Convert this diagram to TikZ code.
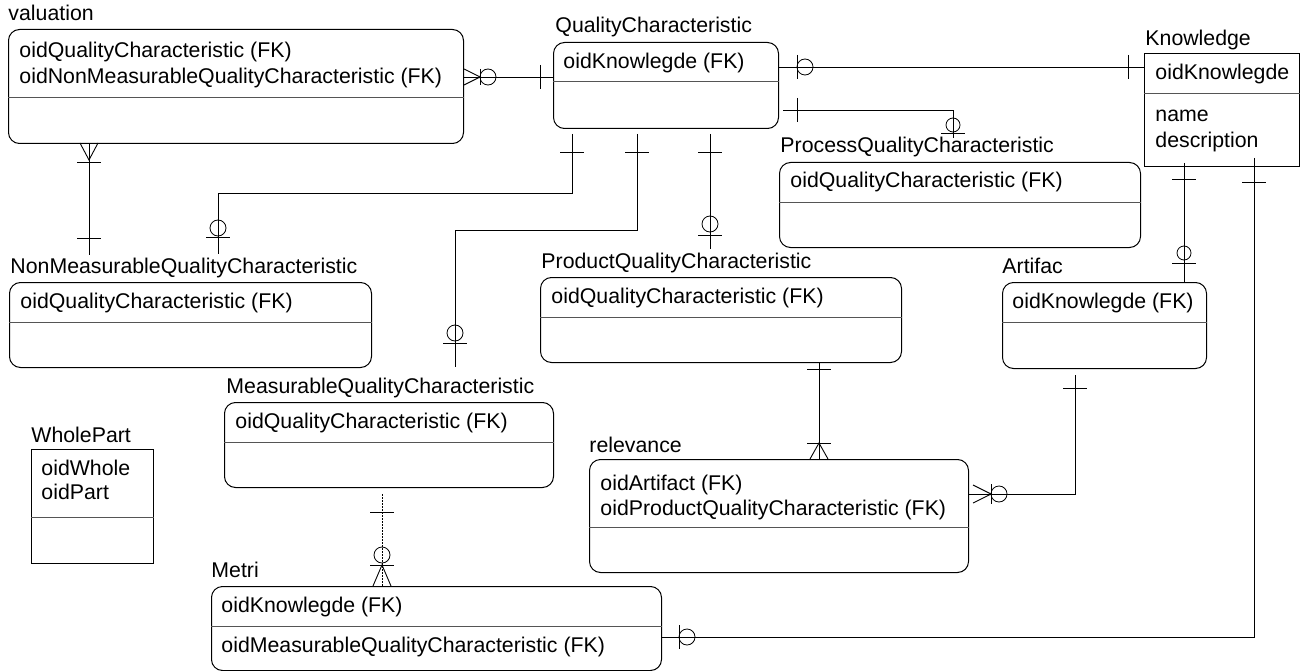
\documentclass[tikz,border=0pt]{standalone}
\usepackage{fontspec}
\setmainfont{Liberation Sans}
\usetikzlibrary{calc}
\definecolor{divgray}{RGB}{85,85,85}
\begin{document}
\begin{tikzpicture}[x=1pt,y=-1pt,line width=0.9pt,
  ent/.style={draw, rounded corners=11pt, inner sep=0pt, anchor=north west, line width=1pt},
  sqent/.style={draw, inner sep=0pt, anchor=north west, line width=1pt},
  lbl/.style={inner sep=0pt, anchor=base west, font=\fontsize{21.3}{25}\selectfont},
  divline/.style={draw=divgray, line width=1pt},
  conn/.style={line width=0.9pt},
  idf/.style={conn, dash pattern=on 2pt off 1pt},
  ring/.style={line width=0.8pt}
]
\useasboundingbox (0,0) rectangle (1300,671);

% ---------- entities ----------
% valuation
\node[lbl] (valL) at (8,21) {valuation};
\node[ent, minimum width=455pt, minimum height=114pt] (val) at (8,29) {};
\draw[divline] (val.west |- 0,98) -- (val.east |- 0,98);
\node[lbl] (valR1) at (19,58) {oidQualityCharacteristic (FK)};
\node[lbl] (valR2) at (19,84) {oidNonMeasurableQualityCharacteristic (FK)};

% QualityCharacteristic
\node[lbl] (qcL) at (555,33) {QualityCharacteristic};
\node[ent, minimum width=225pt, minimum height=86pt] (qc) at (553,42) {};
\draw[divline] (qc.west |- 0,82) -- (qc.east |- 0,82);
\node[lbl] (qcR1) at (563,69) {oidKnowlegde (FK)};

% Knowledge
\node[lbl] (knL) at (1145,46) {Knowledge};
\node[sqent, minimum width=155pt, minimum height=113pt] (kn) at (1144,53) {};
\draw[divline] (kn.west |- 0,94) -- (kn.east |- 0,94);
\node[lbl] (knR1) at (1155,80) {oidKnowlegde};
\node[lbl] (knR2) at (1155,122) {name};
\node[lbl] (knR3) at (1155,148) {description};

% ProcessQualityCharacteristic
\node[lbl] (pqL) at (780,153) {ProcessQualityCharacteristic};
\node[ent, minimum width=361pt, minimum height=85pt] (pq) at (779,162) {};
\draw[divline] (pq.west |- 0,202) -- (pq.east |- 0,202);
\node[lbl] (pqR1) at (790,188) {oidQualityCharacteristic (FK)};

% NonMeasurableQualityCharacteristic
\node[lbl] (nmL) at (10,273) {NonMeasurableQualityCharacteristic};
\node[ent, minimum width=362pt, minimum height=85pt] (nm) at (9,282) {};
\draw[divline] (nm.west |- 0,322) -- (nm.east |- 0,322);
\node[lbl] (nmR1) at (20,308) {oidQualityCharacteristic (FK)};

% ProductQualityCharacteristic
\node[lbl] (prL) at (541,268) {ProductQualityCharacteristic};
\node[ent, minimum width=361pt, minimum height=85pt] (pr) at (540,277) {};
\draw[divline] (pr.west |- 0,317) -- (pr.east |- 0,317);
\node[lbl] (prR1) at (551,303) {oidQualityCharacteristic (FK)};

% Artifac
\node[lbl] (arL) at (1002,273) {Artifac};
\node[ent, minimum width=204pt, minimum height=86pt] (ar) at (1002,282) {};
\draw[divline] (ar.west |- 0,322) -- (ar.east |- 0,322);
\node[lbl] (arR1) at (1012,308) {oidKnowlegde (FK)};

% MeasurableQualityCharacteristic
\node[lbl] (mqL) at (226,393) {MeasurableQualityCharacteristic};
\node[ent, minimum width=329pt, minimum height=85pt] (mq) at (224,402) {};
\draw[divline] (mq.west |- 0,442) -- (mq.east |- 0,442);
\node[lbl] (mqR1) at (235,428) {oidQualityCharacteristic (FK)};

% relevance
\node[lbl] (reL) at (589,452) {relevance};
\node[ent, minimum width=379pt, minimum height=113pt] (re) at (589,459) {};
\draw[divline] (re.west |- 0,527) -- (re.east |- 0,527);
\node[lbl] (reR1) at (600,490) {oidArtifact (FK)};
\node[lbl] (reR2) at (600,515) {oidProductQualityCharacteristic (FK)};

% Metri
\node[lbl] (meL) at (211,577) {Metri};
\node[ent, minimum width=450pt, minimum height=84pt] (me) at (211,586) {};
\draw[divline] (me.west |- 0,626) -- (me.east |- 0,626);
\node[lbl] (meR1) at (221,612) {oidKnowlegde (FK)};
\node[lbl] (meR2) at (221,652) {oidMeasurableQualityCharacteristic (FK)};

% WholePart
\node[lbl] (wpL) at (31,442) {WholePart};
\node[sqent, minimum width=122pt, minimum height=114pt] (wp) at (31,449) {};
\draw[divline] (wp.west |- 0,517) -- (wp.east |- 0,517);
\node[lbl] (wpR1) at (41,475) {oidWhole};
\node[lbl] (wpR2) at (41,499) {oidPart};

% ---------- connectors ----------
% valuation -- QualityCharacteristic
\draw[conn] (val.east |- 0,77) -- (qc.west |- 0,77);
\draw[conn] (464,69) -- (480,77) -- (464,85);
\draw[conn] (480,69) -- (480,85);
\draw[ring] (488,77) circle[radius=8pt];
\draw[conn] (540,65) -- (540,89);

% valuation -- NonMeasurable
\coordinate (c2e) at (89,255);
\draw[conn] (val.south -| c2e) -- (c2e);
\draw[conn] (80,143) -- (89,160) -- (98,143);
\draw[conn] (77,162) -- (101,162);
\draw[conn] (77,238) -- (101,238);

% QualityCharacteristic -- Knowledge
\draw[conn] (qc.east |- 0,67) -- (kn.west |- 0,67);
\draw[conn] (797,55) -- (797,79);
\draw[ring] (805,67) circle[radius=8pt];
\draw[conn] (1128,55) -- (1128,79);

% QualityCharacteristic -- ProcessQC
\coordinate (c4s) at (783,110);
\coordinate (c4e) at (953,138);
\draw[conn] (c4s) -| (c4e);
\draw[conn] (797,98) -- (797,122);
\draw[ring] (953,125) circle[radius=7pt];
\draw[conn] (941,133) -- (965,133);

% QualityCharacteristic -- NonMeasurable
\coordinate (c5s) at (572,134);
\coordinate (c5m) at (218,193);
\coordinate (c5e) at (218,254);
\draw[conn] (c5s) |- (c5m) -- (c5e);
\draw[conn] (560,152) -- (584,152);
\draw[ring] (218,228) circle[radius=8pt];
\draw[conn] (206,237) -- (230,237);

% QualityCharacteristic -- Measurable
\coordinate (c6s) at (637,134);
\coordinate (c6m) at (455,230);
\coordinate (c6e) at (455,367);
\draw[conn] (c6s) |- (c6m) -- (c6e);
\draw[conn] (625,152) -- (649,152);
\draw[ring] (455,333) circle[radius=8pt];
\draw[conn] (443,343) -- (467,343);

% QualityCharacteristic -- ProductQC
\coordinate (c7s) at (710,134);
\coordinate (c7e) at (710,249);
\draw[conn] (c7s) -- (c7e);
\draw[conn] (698,152) -- (722,152);
\draw[ring] (710,224) circle[radius=8pt];
\draw[conn] (698,235) -- (722,235);

% Knowledge -- Artifac
\coordinate (c8s) at (1184,163);
\draw[conn] (c8s) -- (ar.north -| c8s);
\draw[conn] (1172,179) -- (1196,179);
\draw[ring] (1184,253) circle[radius=7pt];
\draw[conn] (1172,263) -- (1196,263);

% Knowledge -- Metri
\coordinate (c9s) at (1254,158);
\draw[conn] (c9s) |- (me.east |- 0,637);
\draw[conn] (1242,182) -- (1266,182);
\draw[conn] (679,625) -- (679,649);
\draw[ring] (687,637) circle[radius=8pt];

% ProductQC -- relevance
\coordinate (c10s) at (819,363);
\draw[conn] (c10s) -- (re.north -| c10s);
\draw[conn] (807,369) -- (831,369);
\draw[conn] (807,443) -- (831,443);
\draw[conn] (810,459) -- (819,443) -- (828,459);

% Artifac -- relevance
\coordinate (c11s) at (1075,375);
\draw[conn] (c11s) |- (re.east |- 0,494);
\draw[conn] (1063,388) -- (1087,388);
\draw[conn] (973,485) -- (991,494) -- (973,503);
\draw[conn] (991,484) -- (991,504);
\draw[ring] (999,494) circle[radius=8pt];

% Measurable -- Metri
\coordinate (c12s) at (382,494);
\draw[idf] (c12s) -- (me.north -| c12s);
\draw[conn] (370,512) -- (394,512);
\draw[ring] (382,555) circle[radius=8pt];
\draw[conn] (370,565) -- (394,565);
\draw[conn] (373,586) -- (382,565) -- (391,586);
\end{tikzpicture}
\end{document}
